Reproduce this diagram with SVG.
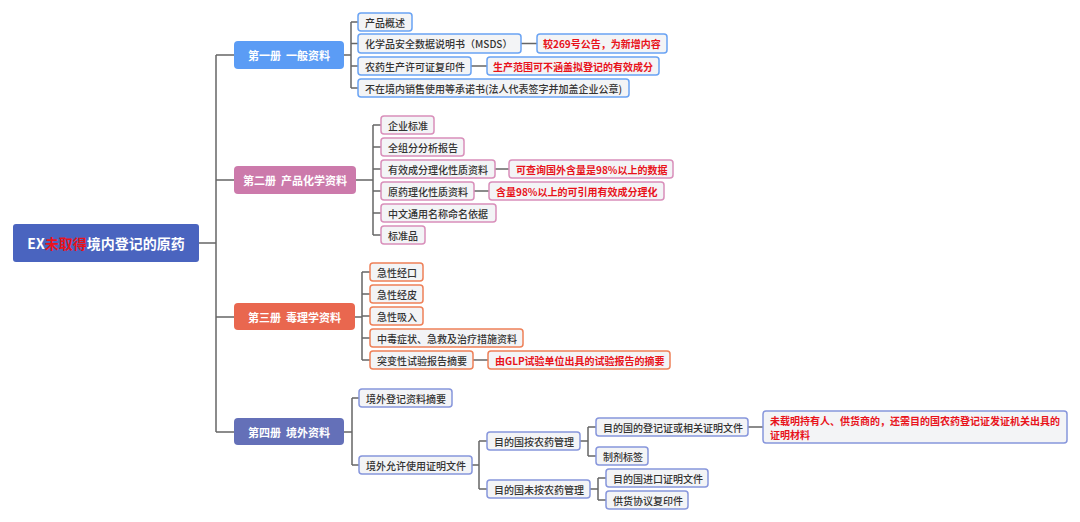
<svg xmlns="http://www.w3.org/2000/svg" width="1080" height="522" viewBox="0 0 1080 522">
<style>
text{font-family:"Noto Sans CJK SC","Liberation Sans",sans-serif;dominant-baseline:central}
.leaf{font-size:10px;fill:#333;font-weight:500}
.note{font-size:10px;fill:#e8131b;font-weight:bold}
.l1{font-size:11px;fill:#fff;font-weight:bold;text-anchor:middle}
.b1{fill:#f3f4f6;stroke:#6aa3f3;stroke-width:1.5}
.b2{fill:#f3f4f6;stroke:#d98fba;stroke-width:1.5}
.b3{fill:#f3f4f6;stroke:#ee8058;stroke-width:1.5}
.b4{fill:#f3f4f6;stroke:#8796dc;stroke-width:1.5}
.conn path{fill:none;stroke:#666;stroke-width:1.5}
</style>
<rect width="1080" height="522" fill="#fff"/>
<g class="conn">
<path d="M199 243H216M216 55V432M216 55H234M216 180H234M216 317H234M216 432H234"/>
<path d="M344 55H351M351 22V88M351 22H358M351 43.5H358M351 66H358M351 88H358M521 43.5H537M471 66H487"/>
<path d="M356 180H373M373 125V235M373 125H381M373 147H381M373 169H381M373 191H381M373 213H381M373 235H381M495 169H509M474 191H489"/>
<path d="M355 317H362M362 272V360M362 272H370M362 294H370M362 316H370M362 338H370M362 360H370M473 360H488"/>
<path d="M344 432H352M352 398V465M352 398H359M352 465H359M472 465H479M479 441V489M479 441H487M479 489H487M580 441H588M588 427V456M588 427H596M588 456H596M748 427H763M590 489H598M598 478V500M598 478H606M598 500H606"/>
</g>
<g id="root">
<rect x="13" y="224" width="186" height="38" rx="3" fill="#4a64bf"/>
<text x="106" y="243" font-size="14" font-weight="bold" text-anchor="middle" fill="#fff">EX<tspan fill="#e8131b">未取得</tspan>境内登记的原药</text>
</g>
<g id="vol1">
<rect x="234" y="41" width="110" height="28" rx="4" fill="#5b9cf5"/>
<text class="l1" x="289" y="55">第一册&#160;&#160;一般资料</text>
</g>
<g id="vol2">
<rect x="234" y="166" width="122" height="28" rx="4" fill="#cc7aab"/>
<text class="l1" x="295" y="180">第二册&#160;&#160;产品化学资料</text>
</g>
<g id="vol3">
<rect x="234" y="303" width="121" height="27" rx="4" fill="#e9674f"/>
<text class="l1" x="294.5" y="316.5">第三册&#160;&#160;毒理学资料</text>
</g>
<g id="vol4">
<rect x="234" y="418" width="110" height="27" rx="4" fill="#6470b8"/>
<text class="l1" x="289" y="431.5">第四册&#160;&#160;境外资料</text>
</g>
<g id="n1a"><rect class="b1" x="358" y="13" width="54" height="18" rx="3"/><text class="leaf" x="365" y="22">产品概述</text></g>
<g id="n1b"><rect class="b1" x="358" y="34" width="163" height="19" rx="3"/><text class="leaf" x="365" y="43.5">化学品安全数据说明书（MSDS）</text></g>
<g id="n1b-note"><rect class="b1" x="537" y="34" width="130" height="19" rx="3"/><text class="note" x="543" y="43.5">较269号公告，为新增内容</text></g>
<g id="n1c"><rect class="b1" x="358" y="57" width="113" height="18" rx="3"/><text class="leaf" x="365" y="66">农药生产许可证复印件</text></g>
<g id="n1c-note"><rect class="b1" x="487" y="57" width="172" height="18" rx="3"/><text class="note" x="493" y="66">生产范围可不涵盖拟登记的有效成分</text></g>
<g id="n1d"><rect class="b1" x="358" y="79" width="271" height="18" rx="3"/><text class="leaf" x="365" y="88">不在境内销售使用等承诺书(法人代表签字并加盖企业公章)</text></g>
<g id="n2a"><rect class="b2" x="381" y="116" width="53" height="18" rx="3"/><text class="leaf" x="388" y="125">企业标准</text></g>
<g id="n2b"><rect class="b2" x="381" y="138" width="83" height="18" rx="3"/><text class="leaf" x="388" y="147">全组分分析报告</text></g>
<g id="n2c"><rect class="b2" x="381" y="160" width="114" height="18" rx="3"/><text class="leaf" x="388" y="169">有效成分理化性质资料</text></g>
<g id="n2c-note"><rect class="b2" x="509" y="160" width="164" height="18" rx="3"/><text class="note" x="516" y="169">可查询国外含量是98%以上的数据</text></g>
<g id="n2d"><rect class="b2" x="381" y="182" width="93" height="18" rx="3"/><text class="leaf" x="388" y="191">原药理化性质资料</text></g>
<g id="n2d-note"><rect class="b2" x="489" y="182" width="175" height="18" rx="3"/><text class="note" x="496" y="191">含量98%以上的可引用有效成分理化</text></g>
<g id="n2e"><rect class="b2" x="381" y="204" width="115" height="18" rx="3"/><text class="leaf" x="388" y="213">中文通用名称命名依据</text></g>
<g id="n2f"><rect class="b2" x="381" y="226" width="44" height="18" rx="3"/><text class="leaf" x="388" y="235">标准品</text></g>
<g id="n3a"><rect class="b3" x="370" y="263" width="53" height="18" rx="3"/><text class="leaf" x="377" y="272">急性经口</text></g>
<g id="n3b"><rect class="b3" x="370" y="285" width="53" height="18" rx="3"/><text class="leaf" x="377" y="294">急性经皮</text></g>
<g id="n3c"><rect class="b3" x="370" y="307" width="53" height="18" rx="3"/><text class="leaf" x="377" y="316">急性吸入</text></g>
<g id="n3d"><rect class="b3" x="370" y="329" width="153" height="18" rx="3"/><text class="leaf" x="377" y="338">中毒症状、急救及治疗措施资料</text></g>
<g id="n3e"><rect class="b3" x="370" y="351" width="103" height="18" rx="3"/><text class="leaf" x="377" y="360">突变性试验报告摘要</text></g>
<g id="n3e-note"><rect class="b3" x="488" y="351" width="182" height="18" rx="3"/><text class="note" x="495" y="360">由GLP试验单位出具的试验报告的摘要</text></g>
<g id="n4a"><rect class="b4" x="359" y="389" width="93" height="18" rx="3"/><text class="leaf" x="366" y="398">境外登记资料摘要</text></g>
<g id="n4b"><rect class="b4" x="359" y="456" width="113" height="18" rx="3"/><text class="leaf" x="366" y="465">境外允许使用证明文件</text></g>
<g id="n4b1"><rect class="b4" x="487" y="432" width="93" height="18" rx="3"/><text class="leaf" x="494" y="441">目的国按农药管理</text></g>
<g id="n4b2"><rect class="b4" x="487" y="480" width="103" height="18" rx="3"/><text class="leaf" x="494" y="489">目的国未按农药管理</text></g>
<g id="n4b1a"><rect class="b4" x="596" y="418" width="152" height="18" rx="3"/><text class="leaf" x="603" y="427">目的国的登记证或相关证明文件</text></g>
<g id="n4b1a-note"><rect class="b4" x="763" y="411" width="304" height="32" rx="3"/><text class="note" x="770" y="420">未载明持有人、供货商的，还需目的国农药登记证发证机关出具的</text><text class="note" x="770" y="434">证明材料</text></g>
<g id="n4b1b"><rect class="b4" x="596" y="447" width="52" height="18" rx="3"/><text class="leaf" x="603" y="456">制剂标签</text></g>
<g id="n4b2a"><rect class="b4" x="606" y="469" width="102" height="18" rx="3"/><text class="leaf" x="613" y="478">目的国进口证明文件</text></g>
<g id="n4b2b"><rect class="b4" x="606" y="491" width="82" height="18" rx="3"/><text class="leaf" x="613" y="500">供货协议复印件</text></g>
</svg>
